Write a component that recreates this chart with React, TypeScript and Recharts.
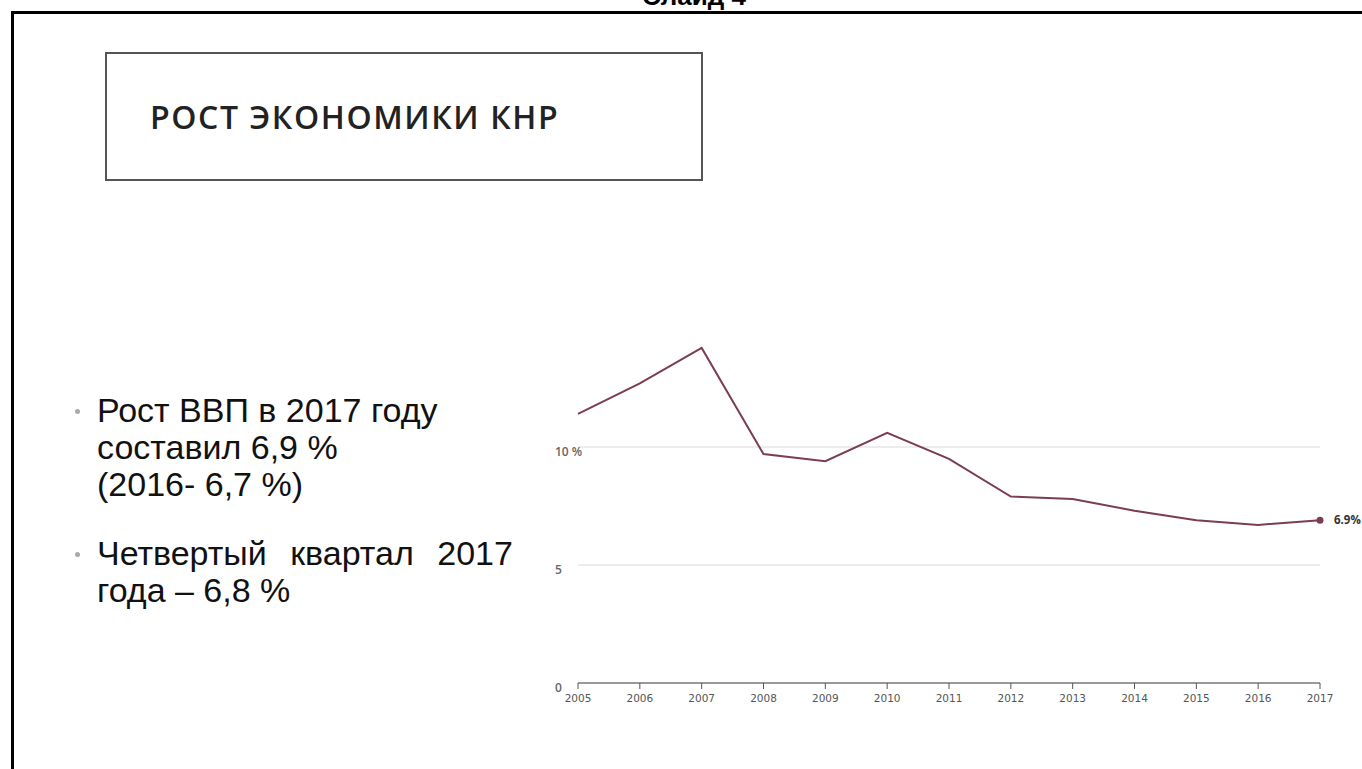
import React from 'react';
import { LineChart, Line, XAxis, YAxis, ReferenceLine } from 'recharts';

// GDP growth, %
const years: string[] = ['2005', '2006', '2007', '2008', '2009', '2010', '2011', '2012', '2013', '2014', '2015', '2016', '2017'];
const growth: number[] = [11.4, 12.7, 14.2, 9.7, 9.4, 10.6, 9.5, 7.9, 7.8, 7.3, 6.9, 6.7, 6.9];
const yTicks: number[] = [0, 5, 10];
const gridValues: number[] = [5, 10];

const chartData = years.map((year, i) => ({ year, growth: growth[i] }));

const LINE_COLOR = '#7a3d52';

const YTick = (props: any) => {
  const { y, payload } = props;
  const label = payload.value === 10 ? '10 %' : String(payload.value);
  return (
    <text x={15} y={y} dy={9} textAnchor="start" fontSize={12} fontWeight={600} fill="#666" fontFamily="Open Sans">
      {label}
    </text>
  );
};

const LastDot = (props: any) => {
  const { cx, cy, index, value } = props;
  if (index !== growth.length - 1) return null;
  return (
    <g key="last-dot">
      <circle cx={cx} cy={cy} r={3.5} fill={LINE_COLOR} />
      <text x={cx + 14} y={cy + 4} fontSize={11.5} fontWeight={700} fill="#333" fontFamily="Open Sans">
        {`${value}%`}
      </text>
    </g>
  );
};

const App: React.FC = () => {
  return (
    <div style={{ position: 'absolute', left: 0, top: 0, width: 1362, height: 769, overflow: 'hidden', background: '#fff' }}>
      {/* slide caption, cut at the top */}
      <div style={{ position: 'absolute', left: 594, top: -17, width: 200, textAlign: 'center', fontFamily: 'Liberation Sans', fontWeight: 700, fontSize: 26, lineHeight: '26px', color: '#000' }}>
        Слайд 4
      </div>

      {/* slide frame */}
      <div style={{ position: 'absolute', left: 11, top: 11, width: 1400, height: 800, borderLeft: '3px solid #000', borderTop: '3px solid #000' }} />

      {/* title box */}
      <div style={{ position: 'absolute', left: 105, top: 52, width: 594, height: 125, border: '2px solid #555', display: 'flex', alignItems: 'center' }}>
        <span style={{ marginLeft: 43, fontFamily: 'Open Sans', fontWeight: 600, fontSize: 32, letterSpacing: 1.6, color: '#222' }}>
          РОСТ ЭКОНОМИКИ КНР
        </span>
      </div>

      {/* bullets */}
      <div style={{ position: 'absolute', left: 70, top: 392, fontFamily: 'Liberation Sans', fontSize: 34, lineHeight: '37px', color: '#111' }}>
        <div style={{ position: 'relative', paddingLeft: 27 }}>
          <span style={{ position: 'absolute', left: 5, top: 17, width: 5, height: 5, borderRadius: 3, background: '#aaa' }} />
          Рост ВВП в 2017 году<br />составил 6,9 %<br />(2016- 6,7 %)
        </div>
        <div style={{ position: 'relative', paddingLeft: 27, marginTop: 32 }}>
          <span style={{ position: 'absolute', left: 5, top: 17, width: 5, height: 5, borderRadius: 3, background: '#aaa' }} />
          <span style={{ wordSpacing: 14 }}>Четвертый квартал 2017</span><br />года – 6,8 %
        </div>
      </div>

      {/* chart */}
      <div style={{ position: 'absolute', left: 540, top: 300 }}>
        <LineChart width={822} height={423} data={chartData} margin={{ top: 29, right: 42, left: 0, bottom: 10 }}>
          {gridValues.map((v) => (
            <ReferenceLine key={v} y={v} stroke="#ececec" strokeWidth={2} />
          ))}
          <XAxis
            dataKey="year"
            height={30}
            axisLine={{ stroke: '#999', strokeWidth: 2 }}
            tickLine={{ stroke: '#555' }}
            tickSize={6}
            tickMargin={6}
            tick={{ fontSize: 10.5, fill: '#555', fontFamily: 'DejaVu Sans' }}
            interval={0}
          />
          <YAxis
            width={38}
            domain={[0, 15]}
            ticks={yTicks}
            axisLine={false}
            tickLine={false}
            tick={<YTick />}
          />
          <Line
            type="linear"
            dataKey="growth"
            stroke={LINE_COLOR}
            strokeWidth={2}
            dot={<LastDot />}
            activeDot={false}
            isAnimationActive={false}
          />
        </LineChart>
      </div>
    </div>
  );
};

export default App;
